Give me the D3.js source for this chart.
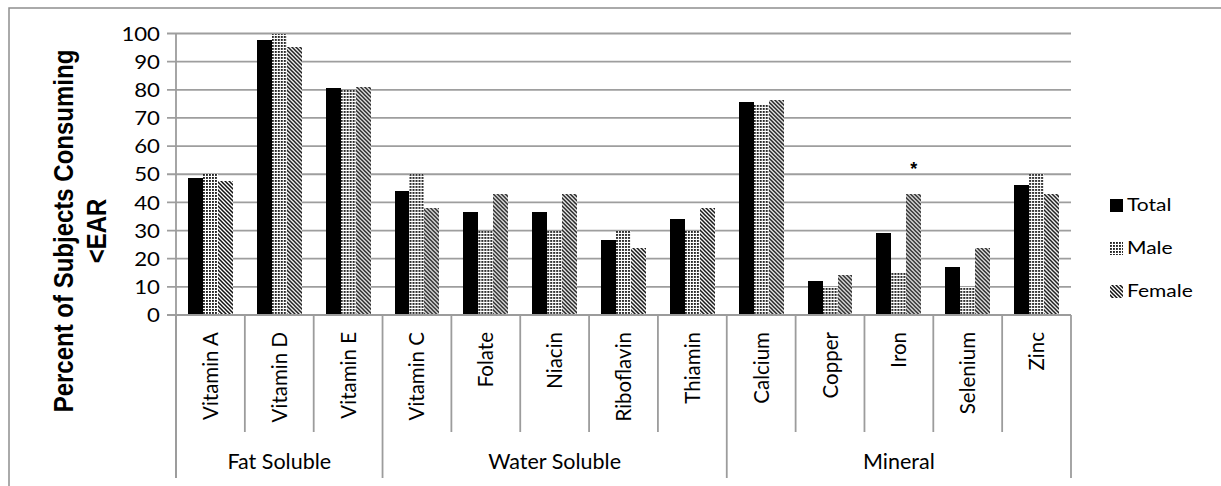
<!DOCTYPE html>
<html>
<head>
<meta charset="utf-8">
<script src="https://cdn.jsdelivr.net/npm/d3@7"></script>
<style>
  html, body { margin: 0; padding: 0; background: #fff; }
  svg { display: block; }
</style>
</head>
<body>
<svg id="chart" width="1221" height="486"></svg>
<script>
// Nutrients and the group each one belongs to
const categories = ["Vitamin A", "Vitamin D", "Vitamin E", "Vitamin C", "Folate", "Niacin",
  "Riboflavin", "Thiamin", "Calcium", "Copper", "Iron", "Selenium", "Zinc"];
const groupNames = ["Fat Soluble", "Water Soluble", "Mineral"];
const groupSizes = [3, 5, 5];

// Percent of subjects consuming below the EAR
const seriesNames = ["Total", "Male", "Female"];
const totalValues  = [48.8, 97.6, 80.5, 43.9, 36.6, 36.6, 26.8, 34.1, 75.6, 12.2, 29.3, 17.1, 46.3];
const maleValues   = [50, 100, 80, 50, 30, 30, 30, 30, 75, 10, 15, 10, 50];
const femaleValues = [47.6, 95.2, 81.0, 38.1, 42.9, 42.9, 23.8, 38.1, 76.2, 14.3, 42.9, 23.8, 42.9];

const yTicks = [0, 10, 20, 30, 40, 50, 60, 70, 80, 90, 100];
const yTitleLines = ["Percent of Subjects Consuming", "<EAR"];
const flaggedCategory = "Iron";   // significant sex difference
const flagSeries = "Female";

const seriesValues = { Total: totalValues, Male: maleValues, Female: femaleValues };

const svg = d3.select("#chart");
const plot = { left: 176, right: 1071, top: 33.5, bottom: 315 };

svg.append("rect").attr("width", 1221).attr("height", 486).attr("fill", "#fff");

// Fill patterns
const defs = svg.append("defs");
const dots = defs.append("pattern").attr("id", "dots")
  .attr("patternUnits", "userSpaceOnUse").attr("width", 3).attr("height", 3);
dots.append("rect").attr("width", 3).attr("height", 3).attr("fill", "#fff");
dots.append("rect").attr("width", 1.9).attr("height", 1.9).attr("fill", "#222");

// Downward diagonal stripes
const stripes = defs.append("pattern").attr("id", "stripes")
  .attr("patternUnits", "userSpaceOnUse").attr("width", 4).attr("height", 4);
stripes.append("rect").attr("width", 4).attr("height", 4).attr("fill", "#fff");
stripes.append("path")
  .attr("d", "M-1,-1 L5,5 M-1,3 L1,5 M3,-1 L5,1")
  .attr("stroke", "#111").attr("stroke-width", 1.5);

const fills = { Total: "#000", Male: "url(#dots)", Female: "url(#stripes)" };

// Outer frame
svg.append("rect").attr("x", 9).attr("y", 8).attr("width", 1240).attr("height", 500)
  .attr("fill", "none").attr("stroke", "#8e8e8e").attr("stroke-width", 1.5);

// Scales
const x0 = d3.scaleBand().domain(categories).range([plot.left, plot.right]).padding(0);
const x1 = d3.scaleBand().domain(seriesNames).range([0, x0.bandwidth()])
  .paddingInner(0).paddingOuter(0.8);
const y = d3.scaleLinear().domain([0, 100]).range([plot.bottom, plot.top]);

// Gridlines with outward tick marks
svg.append("g").selectAll("line").data(yTicks).join("line")
  .attr("x1", plot.left - 9).attr("x2", plot.right)
  .attr("y1", d => y(d)).attr("y2", d => y(d))
  .attr("stroke", "#9e9e9e").attr("stroke-width", 1.8);

// Value axis labels
const yAxis = svg.append("g").attr("transform", `translate(${plot.left - 16},0)`)
  .call(d3.axisLeft(y).tickValues(yTicks).tickSize(0).tickPadding(0));
yAxis.select(".domain").remove();
yAxis.selectAll("text")
  .attr("x", 0).attr("dy", "0.36em")
  .attr("transform", "scale(1.2,1)")
  .style("font-family", "Lato, 'Open Sans', sans-serif")
  .style("font-size", "18.5px").attr("fill", "#000");

// Bars
const barGroups = svg.append("g").selectAll("g").data(categories).join("g")
  .attr("transform", d => `translate(${x0(d)},0)`);
barGroups.selectAll("rect")
  .data((c, i) => seriesNames.map(s => ({ s, v: seriesValues[s][i] })))
  .join("rect")
  .attr("x", d => x1(d.s)).attr("width", x1.bandwidth())
  .attr("y", d => y(d.v)).attr("height", d => y(0) - y(d.v))
  .attr("fill", d => fills[d.s])
  .attr("shape-rendering", "crispEdges");

// Significance marker
const fi = categories.indexOf(flaggedCategory);
svg.append("text")
  .attr("x", x0(flaggedCategory) + x1(flagSeries) + x1.bandwidth() / 2)
  .attr("y", y(femaleValues[fi]) - 19)
  .attr("text-anchor", "middle")
  .style("font-family", "Liberation Sans, Arial, sans-serif")
  .style("font-size", "18px").style("font-weight", "bold")
  .text("*");

// Vertical axis line and category axis
const axisColor = "#9c9c9c";
svg.append("line").attr("x1", plot.left).attr("x2", plot.left)
  .attr("y1", plot.top).attr("y2", 478)
  .attr("stroke", axisColor).attr("stroke-width", 1.8);
svg.append("line").attr("x1", plot.left).attr("x2", plot.right)
  .attr("y1", plot.bottom).attr("y2", plot.bottom)
  .attr("stroke", axisColor).attr("stroke-width", 1.8);

// Separators between categories; longer ones between groups
const groupEdges = [0];
groupSizes.forEach(n => groupEdges.push(groupEdges[groupEdges.length - 1] + n));
const edges = d3.range(categories.length + 1);
svg.append("g").selectAll("line").data(edges).join("line")
  .attr("x1", i => plot.left + i * x0.step()).attr("x2", i => plot.left + i * x0.step())
  .attr("y1", plot.bottom).attr("y2", i => groupEdges.includes(i) ? 478 : 432)
  .attr("stroke", axisColor).attr("stroke-width", 1.8);

// Category labels, rotated
svg.append("g").selectAll("text").data(categories).join("text")
  .attr("transform", d => `translate(${x0(d) + x0.bandwidth() / 2 + 7.5},332) rotate(-90)`)
  .attr("text-anchor", "end")
  .style("font-family", "Lato, 'Open Sans', sans-serif")
  .style("font-size", "20.5px").attr("fill", "#000")
  .text(d => d);

// Group labels
svg.append("g").selectAll("text").data(groupNames).join("text")
  .attr("x", (d, i) => plot.left + (groupEdges[i] + groupEdges[i + 1]) / 2 * x0.step())
  .attr("y", 469)
  .attr("text-anchor", "middle")
  .style("font-family", "Lato, 'Open Sans', sans-serif")
  .style("font-size", "21.5px").attr("fill", "#000")
  .text(d => d);

// Value axis title
const titleX = [73, 106];
svg.append("g").selectAll("text").data(yTitleLines).join("text")
  .attr("transform", (d, i) => `translate(${titleX[i]},231) rotate(-90) scale(1,1.15)`)
  .attr("text-anchor", "middle")
  .style("font-family", "'Liberation Sans', Arial, sans-serif")
  .style("font-size", "24px").style("font-weight", "bold").attr("fill", "#000")
  .text(d => d);

// Legend
const legendY = d3.scalePoint().domain(seriesNames).range([205, 291]);
const legend = svg.append("g").selectAll("g").data(seriesNames).join("g")
  .attr("transform", d => `translate(1110,${legendY(d)})`);
legend.append("rect").attr("x", 0).attr("y", -6.5).attr("width", 13).attr("height", 13)
  .attr("fill", d => fills[d]).attr("shape-rendering", "crispEdges");
legend.append("text")
  .attr("transform", "translate(17,0) scale(1.2,1)")
  .attr("dy", "0.36em")
  .style("font-family", "Lato, 'Open Sans', sans-serif")
  .style("font-size", "17.5px").attr("fill", "#000")
  .text(d => d);
</script>
</body>
</html>
